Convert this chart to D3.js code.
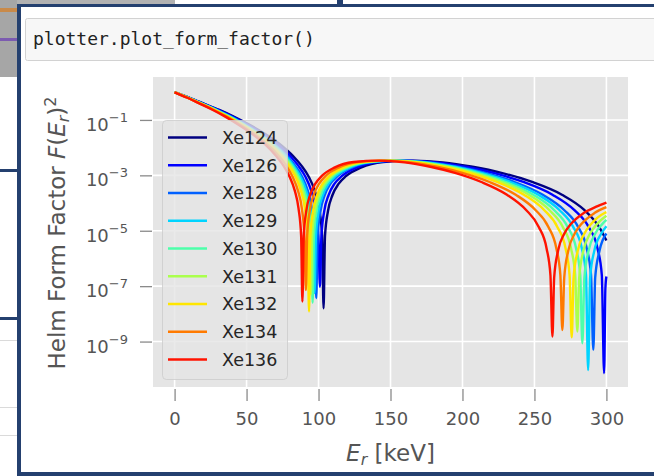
<!DOCTYPE html>
<html>
<head>
<meta charset="utf-8">
<script src="https://cdn.jsdelivr.net/npm/d3@7"></script>
<style>
  body { margin: 0; background: #fff; }
  svg { display: block; font-family: "DejaVu Sans", sans-serif; }
</style>
</head>
<body>
<svg id="chart" width="654" height="476"></svg>
<script>
// values: [E_r in keV, log10 of F(E_r)^2]
const isotopes = ['Xe124', 'Xe126', 'Xe128', 'Xe129', 'Xe130', 'Xe131', 'Xe132', 'Xe134', 'Xe136'];

const xe124 = [[0,0],[10.4,-0.20],[20.7,-0.42],[31.1,-0.64],[41.4,-0.89],[51.8,-1.17],[62.1,-1.48],[72.5,-1.85],[82.8,-2.33],[88.0,-2.64],[93.2,-3.05],[97.3,-3.55],[100.4,-4.19],[102.5,-5.17],[103.5,-7.80],[104.5,-5.19],[106.6,-4.28],[109.7,-3.71],[113.9,-3.31],[119.0,-3.03],[129.4,-2.72],[144.9,-2.52],[165.6,-2.47],[186.3,-2.53],[207.0,-2.69],[227.7,-2.92],[248.4,-3.24],[269.1,-3.70],[284.6,-4.25],[295.0,-4.87],[300,-5.35]];
const xe126 = [[0,0],[10.1,-0.20],[20.2,-0.42],[30.3,-0.64],[40.4,-0.89],[50.5,-1.17],[60.6,-1.48],[70.7,-1.85],[80.8,-2.33],[85.8,-2.64],[90.9,-3.05],[94.9,-3.55],[97.9,-4.19],[99.9,-5.17],[101.0,-7.02],[102.0,-5.19],[104.0,-4.28],[107.0,-3.71],[111.0,-3.31],[116.1,-3.03],[126.2,-2.72],[141.3,-2.52],[161.5,-2.47],[181.7,-2.53],[201.9,-2.69],[222.1,-2.92],[242.3,-3.24],[262.5,-3.70],[277.6,-4.25],[287.7,-4.87],[293.8,-5.63],[296.8,-6.59],[298.4,-10.14],[299.3,-7.08],[300,-6.65]];
const xe128 = [[0,0],[9.8,-0.20],[19.7,-0.42],[29.5,-0.64],[39.4,-0.89],[49.2,-1.17],[59.0,-1.48],[68.9,-1.85],[78.7,-2.33],[83.6,-2.64],[88.6,-3.05],[92.5,-3.55],[95.4,-4.19],[97.4,-5.17],[98.4,-7.43],[99.4,-5.19],[101.4,-4.28],[104.3,-3.71],[108.2,-3.31],[113.2,-3.03],[123.0,-2.72],[137.8,-2.52],[157.4,-2.47],[177.1,-2.53],[196.8,-2.69],[216.5,-2.92],[236.2,-3.24],[255.8,-3.70],[270.6,-4.25],[280.4,-4.87],[286.3,-5.63],[289.3,-6.59],[290.9,-9.30],[292.2,-6.69],[295.2,-5.72],[300,-5.10]];
const xe129 = [[0,0],[9.7,-0.20],[19.4,-0.42],[29.2,-0.64],[38.9,-0.89],[48.6,-1.17],[58.3,-1.48],[68.0,-1.85],[77.8,-2.33],[82.6,-2.64],[87.5,-3.05],[91.4,-3.55],[94.3,-4.19],[96.2,-5.17],[97.2,-7.25],[98.2,-5.19],[100.1,-4.28],[103.0,-3.71],[106.9,-3.31],[111.8,-3.03],[121.5,-2.72],[136.1,-2.52],[155.5,-2.47],[175.0,-2.53],[194.4,-2.69],[213.8,-2.92],[233.3,-3.24],[252.7,-3.70],[267.3,-4.25],[277.0,-4.87],[282.9,-5.63],[285.8,-6.59],[287.3,-10.03],[288.7,-6.69],[291.6,-5.72],[296.5,-5.10],[300,-4.84]];
const xe130 = [[0,0],[9.6,-0.20],[19.2,-0.42],[28.8,-0.64],[38.3,-0.89],[47.9,-1.17],[57.5,-1.48],[67.1,-1.85],[76.7,-2.33],[81.5,-2.64],[86.3,-3.05],[90.1,-3.55],[93.0,-4.19],[94.9,-5.17],[95.9,-7.60],[96.8,-5.19],[98.7,-4.28],[101.6,-3.71],[105.4,-3.31],[110.2,-3.03],[119.8,-2.72],[134.2,-2.52],[153.4,-2.47],[172.5,-2.53],[191.7,-2.69],[210.9,-2.92],[230.0,-3.24],[249.2,-3.70],[263.6,-4.25],[273.2,-4.87],[278.9,-5.63],[281.8,-6.59],[283.3,-9.06],[284.7,-6.69],[287.6,-5.72],[292.3,-5.10],[297.1,-4.76],[300,-4.61]];
const xe131 = [[0,0],[9.5,-0.20],[18.9,-0.42],[28.4,-0.64],[37.9,-0.89],[47.3,-1.17],[56.8,-1.48],[66.3,-1.85],[75.7,-2.33],[80.5,-2.64],[85.2,-3.05],[89.0,-3.55],[91.8,-4.19],[93.7,-5.17],[94.7,-7.30],[95.6,-5.19],[97.5,-4.28],[100.3,-3.71],[104.1,-3.31],[108.8,-3.03],[118.3,-2.72],[132.5,-2.52],[151.4,-2.47],[170.4,-2.53],[189.3,-2.69],[208.2,-2.92],[227.2,-3.24],[246.1,-3.70],[260.3,-4.25],[269.8,-4.87],[275.4,-5.63],[278.3,-6.59],[279.8,-8.64],[281.1,-6.69],[284.0,-5.72],[288.7,-5.10],[293.4,-4.76],[300,-4.46]];
const xe132 = [[0,0],[9.3,-0.20],[18.7,-0.42],[28.0,-0.64],[37.3,-0.89],[46.7,-1.17],[56.0,-1.48],[65.3,-1.85],[74.7,-2.33],[79.3,-2.64],[84.0,-3.05],[87.7,-3.55],[90.5,-4.19],[92.4,-5.17],[93.4,-7.92],[94.3,-5.19],[96.2,-4.28],[99.0,-3.71],[102.7,-3.31],[107.4,-3.03],[116.7,-2.72],[130.7,-2.52],[149.4,-2.47],[168.0,-2.53],[186.7,-2.69],[205.4,-2.92],[224.0,-3.24],[242.7,-3.70],[256.7,-4.25],[266.0,-4.87],[271.6,-5.63],[274.4,-6.59],[275.9,-8.85],[277.2,-6.69],[280.1,-5.72],[284.7,-5.10],[289.4,-4.76],[298.7,-4.36],[300,-4.33]];
const xe134 = [[0,0],[9.1,-0.20],[18.2,-0.42],[27.3,-0.64],[36.5,-0.89],[45.6,-1.17],[54.7,-1.48],[63.8,-1.85],[72.9,-2.33],[77.5,-2.64],[82.0,-3.05],[85.7,-3.55],[88.4,-4.19],[90.2,-5.17],[91.2,-7.14],[92.1,-5.19],[93.9,-4.28],[96.6,-3.71],[100.3,-3.31],[104.8,-3.03],[113.9,-2.72],[127.6,-2.52],[145.8,-2.47],[164.1,-2.53],[182.3,-2.69],[200.5,-2.92],[218.8,-3.24],[237.0,-3.70],[250.7,-4.25],[259.8,-4.87],[265.2,-5.63],[268.0,-6.59],[269.4,-8.58],[270.7,-6.69],[273.5,-5.72],[278.0,-5.10],[282.6,-4.76],[291.7,-4.36],[300,-4.15]];
const xe136 = [[0,0],[8.9,-0.20],[17.8,-0.42],[26.6,-0.64],[35.5,-0.89],[44.4,-1.17],[53.3,-1.48],[62.2,-1.85],[71.0,-2.33],[75.5,-2.64],[79.9,-3.05],[83.5,-3.55],[86.1,-4.19],[87.9,-5.17],[88.8,-7.56],[89.7,-5.19],[91.5,-4.28],[94.1,-3.71],[97.7,-3.31],[102.1,-3.03],[111.0,-2.72],[124.3,-2.52],[142.1,-2.47],[159.8,-2.53],[177.6,-2.69],[195.4,-2.92],[213.1,-3.24],[230.9,-3.70],[244.2,-4.25],[253.1,-4.87],[258.4,-5.63],[261.1,-6.59],[262.5,-8.82],[263.7,-6.69],[266.4,-5.72],[270.8,-5.10],[275.3,-4.76],[284.2,-4.36],[293.0,-4.13],[300,-3.98]];

const seriesData = [xe124, xe126, xe128, xe129, xe130, xe131, xe132, xe134, xe136];
const xTicks = [0, 50, 100, 150, 200, 250, 300];
const yTickExponents = [-1, -3, -5, -7, -9];

// jet colormap sampled at i/9
const lineColors = ['#000080', '#0000ff', '#0060ff', '#00d4ff', '#4dffaa', '#aaff4d', '#ffe600', '#ff7a00', '#ff1300'];

const svg = d3.select('#chart');
const navy = '#24406f';

// screenshot chrome around the notebook cell
svg.append('rect').attr('width', 654).attr('height', 476).attr('fill', '#fff');
svg.append('rect').attr('x', 0).attr('y', 0).attr('width', 17).attr('height', 77).attr('fill', '#a6a6a6');
svg.append('rect').attr('x', 0).attr('y', 8).attr('width', 17).attr('height', 4).attr('fill', '#c98a4a');
svg.append('rect').attr('x', 0).attr('y', 38).attr('width', 17).attr('height', 3).attr('fill', '#7c5bb0');
svg.append('rect').attr('x', 17).attr('y', 0).attr('width', 158).attr('height', 4).attr('fill', '#b2b2b2');
svg.append('rect').attr('x', 337).attr('y', 0).attr('width', 6).attr('height', 4).attr('fill', navy);
svg.append('rect').attr('x', 0).attr('y', 169).attr('width', 17).attr('height', 3).attr('fill', navy);
svg.append('rect').attr('x', 0).attr('y', 317).attr('width', 17).attr('height', 3).attr('fill', navy);
[340, 407, 435].forEach(v => {
  svg.append('rect').attr('x', 0).attr('y', v).attr('width', 17).attr('height', 1).attr('fill', '#dadada');
});
svg.append('rect').attr('x', 17).attr('y', 4).attr('width', 637).attr('height', 3).attr('fill', navy);
svg.append('rect').attr('x', 17).attr('y', 4).attr('width', 4).attr('height', 472).attr('fill', navy);
svg.append('rect').attr('x', 17).attr('y', 472).attr('width', 637).attr('height', 4).attr('fill', navy);

// code cell
svg.append('rect')
  .attr('x', 25.5).attr('y', 18.5).attr('width', 650).attr('height', 42)
  .attr('rx', 2)
  .attr('fill', '#f7f7f7')
  .attr('stroke', '#d2d2d2');
svg.append('text')
  .attr('x', 33).attr('y', 45)
  .attr('font-family', '"DejaVu Sans Mono", monospace')
  .attr('font-size', 18)
  .attr('fill', '#222')
  .text('plotter.plot_form_factor()');

// plot area
const plot = { left: 153, right: 628, top: 77, bottom: 387 };

const x = d3.scaleLinear().domain([-15, 315]).range([plot.left, plot.right]);
const y = d3.scaleLog().domain([Math.pow(10, -10.64), Math.pow(10, 0.55)]).range([plot.bottom, plot.top]);

svg.append('rect')
  .attr('x', plot.left).attr('y', plot.top)
  .attr('width', plot.right - plot.left).attr('height', plot.bottom - plot.top)
  .attr('fill', '#e5e5e5');

const grid = svg.append('g').attr('stroke', '#fff').attr('stroke-width', 1.6);
grid.selectAll('.vx').data(xTicks).join('line')
  .attr('x1', d => x(d)).attr('x2', d => x(d))
  .attr('y1', plot.top).attr('y2', plot.bottom);
grid.selectAll('.hy').data(yTickExponents).join('line')
  .attr('x1', plot.left).attr('x2', plot.right)
  .attr('y1', d => y(Math.pow(10, d))).attr('y2', d => y(Math.pow(10, d)));

// axes
const xAxis = svg.append('g')
  .attr('transform', `translate(0,${plot.bottom + 2})`)
  .call(d3.axisBottom(x).tickValues(xTicks).tickSize(12).tickFormat(d3.format('d')));
xAxis.select('.domain').remove();
xAxis.selectAll('line').attr('stroke', '#8a8a8a').attr('stroke-width', 1.3);
xAxis.selectAll('text')
  .attr('y', 36).attr('dy', 0)
  .attr('font-size', 18)
  .attr('font-family', '"DejaVu Sans", sans-serif')
  .attr('fill', '#555');

const yAxis = svg.append('g')
  .attr('transform', `translate(${plot.left - 1},0)`)
  .call(d3.axisLeft(y).tickValues(yTickExponents.map(e => Math.pow(10, e))).tickSize(12).tickFormat(''));
yAxis.select('.domain').remove();
yAxis.selectAll('line').attr('stroke', '#8a8a8a').attr('stroke-width', 1.3);
yAxis.selectAll('.tick').each(function(d) {
  const t = d3.select(this).select('text')
    .attr('x', -24).attr('dy', 0).attr('y', 10.5)
    .attr('text-anchor', 'end')
    .attr('font-size', 18)
    .attr('font-family', '"DejaVu Sans", sans-serif')
    .attr('fill', '#555');
  t.append('tspan').text('10');
  t.append('tspan').attr('dy', -9).attr('font-size', 13).text('\u2212' + Math.abs(Math.round(Math.log10(d))));
});

// curves
const line = d3.line()
  .x(d => x(d[0]))
  .y(d => y(Math.pow(10, d[1])))
  .curve(d3.curveMonotoneX);

svg.append('g')
  .selectAll('path')
  .data(seriesData)
  .join('path')
  .attr('fill', 'none')
  .attr('stroke', (d, i) => lineColors[i])
  .attr('stroke-width', 2.4)
  .attr('stroke-linejoin', 'round')
  .attr('d', line);

// legend
const legend = svg.append('g');
legend.append('rect')
  .attr('x', 162.5).attr('y', 120.5).attr('width', 125).attr('height', 259)
  .attr('rx', 4)
  .attr('fill', '#e5e5e5').attr('fill-opacity', 0.8)
  .attr('stroke', '#cccccc').attr('stroke-opacity', 0.8);
const items = legend.selectAll('.item').data(isotopes).join('g')
  .attr('transform', (d, i) => `translate(0,${137.5 + i * 27.75})`);
items.append('line')
  .attr('x1', 168).attr('x2', 207)
  .attr('stroke', (d, i) => lineColors[i])
  .attr('stroke-width', 2.6);
items.append('text')
  .attr('x', 222).attr('dy', '0.36em')
  .attr('font-size', 17.5)
  .attr('fill', '#262626')
  .text(d => d);

// axis labels
const xLabel = svg.append('text')
  .attr('x', (plot.left + plot.right) / 2).attr('y', 461)
  .attr('text-anchor', 'middle')
  .attr('font-size', 23)
  .attr('fill', '#555');
xLabel.append('tspan').attr('font-style', 'italic').text('E');
xLabel.append('tspan').attr('font-style', 'italic').attr('font-size', 16).attr('dy', 4).text('r');
xLabel.append('tspan').attr('dy', -4).text(' [keV]');

const yLabel = svg.append('text')
  .attr('transform', `translate(65,${(plot.top + plot.bottom) / 2 + 1}) rotate(-90)`)
  .attr('text-anchor', 'middle')
  .attr('font-size', 23)
  .attr('fill', '#555');
yLabel.append('tspan').text('Helm Form Factor ');
yLabel.append('tspan').attr('font-style', 'italic').text('F');
yLabel.append('tspan').text('(');
yLabel.append('tspan').attr('font-style', 'italic').text('E');
yLabel.append('tspan').attr('font-style', 'italic').attr('font-size', 16).attr('dy', 4).text('r');
yLabel.append('tspan').attr('dy', -4).text(')');
yLabel.append('tspan').attr('font-size', 16).attr('dy', -9).text('2');
</script>
</body>
</html>
